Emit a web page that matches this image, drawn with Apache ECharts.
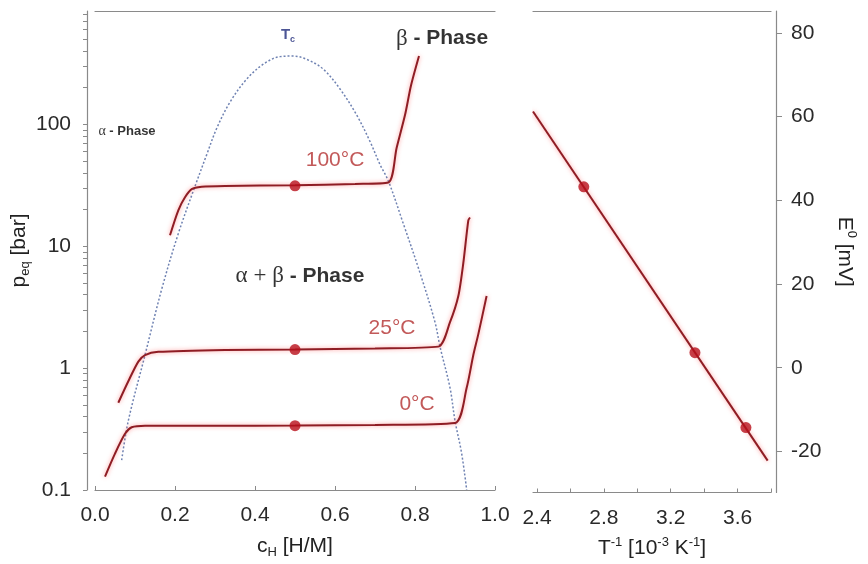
<!DOCTYPE html>
<html>
<head>
<meta charset="utf-8">
<script src="https://cdn.jsdelivr.net/npm/echarts@6/dist/echarts.min.js"></script>
<style>
  html, body { margin: 0; padding: 0; background: #fff; }
  #chart { width: 868px; height: 564px; }
</style>
</head>
<body>
<div id="chart"></div>
<script>
// ---- left panel: isotherms p_eq vs c_H (log scale) ----
const c100 = [0.1875, 0.2083, 0.225, 0.2417, 0.2667, 0.325, 0.5, 0.65, 0.7333, 0.754, 0.775, 0.79, 0.81];
const p100 = [12.3, 19.7, 25.2, 29.4, 30.7, 31.2, 31.6, 32.4, 33.3, 64, 119, 208, 363];

const c25 = [0.0583, 0.0833, 0.1083, 0.125, 0.1583, 0.325, 0.5, 0.7, 0.8583, 0.8875, 0.9083, 0.9208, 0.9333, 0.9375];
const p25 = [0.52, 0.78, 1.13, 1.28, 1.36, 1.41, 1.42, 1.45, 1.5, 2.38, 3.9, 7.28, 16.3, 17.2];

const c0 = [0.025, 0.05, 0.075, 0.0917, 0.125, 0.3, 0.5, 0.7, 0.9, 0.9292, 0.9458, 0.9583, 0.979];
const p0 = [0.129, 0.199, 0.289, 0.327, 0.337, 0.337, 0.338, 0.342, 0.355, 0.69, 1.28, 1.9, 3.9];

// miscibility gap (T_c dome)
const domeC = [0.0667, 0.0833, 0.125, 0.1667, 0.2083, 0.25, 0.2793, 0.3043, 0.3375, 0.3793, 0.4208, 0.4625,
               0.4958, 0.5293, 0.5708, 0.6125, 0.6543, 0.6875, 0.7125, 0.7333, 0.7708, 0.8125, 0.85, 0.8625,
               0.8875, 0.9, 0.9167, 0.9292];
const domeP = [0.176, 0.37, 1.28, 4.43, 12.7, 31, 56.4, 92.7, 152, 235, 311, 359,
               363, 341, 283, 195, 119, 72.3, 46.8, 34.4, 15.3, 6.04, 2.38, 1.5,
               0.69, 0.37, 0.199, 0.1];

// plateau midpoints
const midC = [0.5, 0.5, 0.5];
const midP = [31.3, 1.42, 0.337];

// text labels in data coordinates
const annoText = ['100°C', '25°C', '0°C', 'β - Phase', 'α + β - Phase', 'α - Phase', 'Tc'];
const annoC = [0.6, 0.7425, 0.805, 0.8675, 0.5125, 0.08, 0.4825];
const annoP = [51, 2.12, 0.505, 505, 5.68, 87.7, 543];

// ---- right panel: E0 vs 1/T ----
const lineT = [2.376, 3.78];
const lineE = [61.2, -22.2];
const dotT = [2.68, 3.345, 3.65];
const dotE = [43.2, 3.6, -14.3];

// axis ticks
const logLabels = [0.1, 1, 10, 100];
const eLabels = [-20, 0, 20, 40, 60, 80];
const tLabels = [2.4, 2.8, 3.2, 3.6];
const tTicks = [2.4, 2.6, 2.8, 3.0, 3.2, 3.4, 3.6, 3.8];

const logTicks = [];
[0.1, 1, 10, 100].forEach((d) => {
  for (let k = 1; k <= 9; k++) {
    if (d * k <= 850) logTicks.push(+(d * k).toPrecision(3));
  }
});

const zip = (a, b) => a.map((v, i) => [v, b[i]]);

const FONT = "'Liberation Sans', Arial, sans-serif";
const SERIF = "'Liberation Serif', 'Times New Roman', serif";
const RED_LINE = '#8f1d24';
const RED_TEXT = '#b3302f';
const DOT = '#b8101c';

const annoFormat = {
  '100°C': '{red|100°C}',
  '25°C': '{red|25°C}',
  '0°C': '{red|0°C}',
  'β - Phase': '{gr|β}{bb| - Phase}',
  'α + β - Phase': '{gr|α + β}{bb| - Phase}',
  'α - Phase': '{grs|α}{sb| - Phase}',
  'Tc': '{tc|T}{tcs|c}',
};

const isoStyle = {
  color: RED_LINE,
  width: 2,
  shadowColor: 'rgba(255, 70, 70, 0.55)',
  shadowBlur: 4,
};

const axisLineStyle = { onZero: false, lineStyle: { color: '#8a8a8a', width: 1.2 } };
const tickLabel = { color: '#2a2a2a', fontSize: 21, fontFamily: FONT };
const nameRich = {
  a: { fontSize: 21, fontFamily: FONT, color: '#222', lineHeight: 26 },
  sub: { fontSize: 13, fontFamily: FONT, color: '#222', verticalAlign: 'bottom', lineHeight: 14 },
  sup: { fontSize: 13, fontFamily: FONT, color: '#222', verticalAlign: 'top', lineHeight: 14 },
};

const chart = echarts.init(document.getElementById('chart'));

chart.setOption({
  animation: false,
  backgroundColor: '#fff',
  grid: [
    { left: 95, right: 373, top: 11, bottom: 67 },
    { left: 533, right: 97, top: 11, bottom: 67 },
  ],
  xAxis: [
    {
      gridIndex: 0,
      type: 'value',
      min: 0,
      max: 1,
      interval: 0.2,
      name: '{a|c}{sub|H}{a| [H/M]}',
      nameLocation: 'middle',
      nameGap: 43,
      nameTextStyle: { rich: nameRich },
      axisLine: axisLineStyle,
      axisTick: { show: true, inside: true, length: 4, lineStyle: { color: '#8a8a8a' } },
      axisLabel: { ...tickLabel, margin: 15, formatter: (v) => v.toFixed(1) },
      splitLine: { show: false },
    },
    {
      gridIndex: 1,
      type: 'value',
      min: 2.376,
      max: 3.8,
      name: '{a|T}{sup|-1}{a| [10}{sup|-3}{a| K}{sup|-1}{a|]}',
      nameLocation: 'middle',
      nameGap: 43,
      nameTextStyle: { rich: nameRich },
      axisLine: axisLineStyle,
      axisTick: { show: true, inside: true, length: 4, customValues: tTicks, lineStyle: { color: '#8a8a8a' } },
      axisLabel: { ...tickLabel, margin: 15, customValues: tLabels, formatter: (v) => v.toFixed(1) },
      splitLine: { show: false },
    },
    // top frame lines
    {
      gridIndex: 0, type: 'value', position: 'top', min: 0, max: 1,
      axisLine: axisLineStyle, axisTick: { show: false }, axisLabel: { show: false }, splitLine: { show: false },
    },
    {
      gridIndex: 1, type: 'value', position: 'top', min: 2.376, max: 3.8,
      axisLine: axisLineStyle, axisTick: { show: false }, axisLabel: { show: false }, splitLine: { show: false },
    },
  ],
  yAxis: [
    {
      gridIndex: 0,
      type: 'log',
      logBase: 10,
      min: 0.1,
      max: 850,
      offset: 8,
      name: '{a|p}{sub|eq}{a| [bar]}',
      nameLocation: 'middle',
      nameGap: 48,
      nameTextStyle: { rich: nameRich },
      axisLine: { show: true, ...axisLineStyle },
      axisTick: { show: true, length: 4, customValues: logTicks, lineStyle: { color: '#8a8a8a' } },
      axisLabel: { ...tickLabel, margin: 16, customValues: logLabels, formatter: (v) => String(v) },
      splitLine: { show: false },
    },
    {
      gridIndex: 1,
      type: 'value',
      position: 'right',
      min: -29.8,
      max: 85.2,
      offset: 5,
      name: '{a|E}{sup|0}{a| [mV]}',
      nameLocation: 'middle',
      nameRotate: -90,
      nameGap: 56,
      nameTextStyle: { rich: nameRich },
      axisLine: { show: true, ...axisLineStyle },
      axisTick: { show: true, length: 6, customValues: eLabels, lineStyle: { color: '#8a8a8a' } },
      axisLabel: { ...tickLabel, margin: 15, customValues: eLabels },
      splitLine: { show: false },
    },
  ],
  series: [
    {
      name: 'dome',
      type: 'line',
      xAxisIndex: 0,
      yAxisIndex: 0,
      data: zip(domeC, domeP),
      smooth: 0.35,
      showSymbol: false,
      lineStyle: { color: '#6f82b2', width: 1.5, type: [2, 2] },
      z: 2,
    },
    {
      name: '100°C',
      type: 'line',
      xAxisIndex: 0,
      yAxisIndex: 0,
      data: zip(c100, p100),
      smooth: 0.25,
      showSymbol: false,
      lineStyle: isoStyle,
      z: 3,
    },
    {
      name: '25°C',
      type: 'line',
      xAxisIndex: 0,
      yAxisIndex: 0,
      data: zip(c25, p25),
      smooth: 0.25,
      showSymbol: false,
      lineStyle: isoStyle,
      z: 3,
    },
    {
      name: '0°C',
      type: 'line',
      xAxisIndex: 0,
      yAxisIndex: 0,
      data: zip(c0, p0),
      smooth: 0.25,
      showSymbol: false,
      lineStyle: isoStyle,
      z: 3,
    },
    {
      name: 'midpoints',
      type: 'scatter',
      xAxisIndex: 0,
      yAxisIndex: 0,
      data: zip(midC, midP),
      symbolSize: 11,
      itemStyle: { color: DOT },
      z: 4,
    },
    {
      name: 'labels',
      type: 'scatter',
      xAxisIndex: 0,
      yAxisIndex: 0,
      symbolSize: 0,
      silent: true,
      data: annoText.map((t, i) => ({ name: t, value: [annoC[i], annoP[i]] })),
      label: {
        show: true,
        position: 'inside',
        formatter: (p) => annoFormat[p.name],
        rich: {
          red: { fontSize: 21, fontFamily: FONT, color: RED_TEXT },
          gr: { fontSize: 23, fontFamily: SERIF, color: '#000' },
          bb: { fontSize: 21, fontFamily: FONT, fontWeight: 'bold', color: '#000' },
          grs: { fontSize: 14, fontFamily: SERIF, color: '#000' },
          sb: { fontSize: 13, fontFamily: FONT, fontWeight: 'bold', color: '#000' },
          tc: { fontSize: 15, fontFamily: FONT, fontWeight: 'bold', color: '#1f2b7a', lineHeight: 18 },
          tcs: { fontSize: 9, fontFamily: FONT, fontWeight: 'bold', color: '#1f2b7a', verticalAlign: 'bottom', lineHeight: 11 },
        },
      },
      z: 5,
    },
    {
      name: 'E0 fit',
      type: 'line',
      xAxisIndex: 1,
      yAxisIndex: 1,
      data: zip(lineT, lineE),
      showSymbol: false,
      lineStyle: isoStyle,
      z: 3,
    },
    {
      name: 'E0 points',
      type: 'scatter',
      xAxisIndex: 1,
      yAxisIndex: 1,
      data: zip(dotT, dotE),
      symbolSize: 11,
      itemStyle: { color: DOT },
      z: 4,
    },
  ],
});
</script>
</body>
</html>
